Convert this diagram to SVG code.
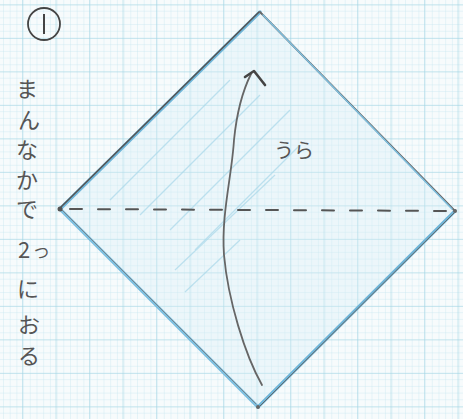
<svg xmlns="http://www.w3.org/2000/svg" width="463" height="419" viewBox="0 0 463 419">
<defs>
<pattern id="fine" width="6.7" height="6.7" patternUnits="userSpaceOnUse" x="3" y="4">
<path d="M0 0 H6.7 M0 0 V6.7" stroke="#c6e6f0" stroke-width="0.8" fill="none"/>
</pattern>
<pattern id="major" width="33.5" height="33.5" patternUnits="userSpaceOnUse" x="22" y="4.5">
<path d="M0 0 H33.5 M0 0 V33.5" stroke="#a3d5e4" stroke-width="1.1" fill="none"/>
</pattern>
<style>
.txt{font-family:"Noto Sans CJK JP","Noto Sans",sans-serif;fill:#555;font-weight:400}
.edge{fill:none;stroke-linecap:round}
</style>
</defs>
<rect width="463" height="419" fill="#f7fbfc"/>
<rect width="463" height="419" fill="url(#fine)"/>
<rect width="463" height="419" fill="url(#major)"/>

<g id="paper">
<polygon points="260,12 455,211 258,407 60,209" fill="#d6eef6" fill-opacity="0.35"/>
<g stroke="#a9d8ea" stroke-width="1.2" opacity="0.7">
<line x1="110" y1="200" x2="230" y2="80"/>
<line x1="140" y1="215" x2="260" y2="95"/>
<line x1="170" y1="230" x2="290" y2="110"/>
<line x1="175" y1="270" x2="275" y2="175"/>
<line x1="195" y1="250" x2="300" y2="145"/>
<line x1="185" y1="292" x2="240" y2="240"/>
</g>
<line class="edge" x1="60" y1="209" x2="260" y2="12" stroke="#6fb5d8" stroke-width="3.5"/>
<line class="edge" x1="61" y1="207" x2="259" y2="12" stroke="#555" stroke-width="1.6"/>
<line class="edge" x1="260" y1="12" x2="455" y2="211" stroke="#666" stroke-width="1.8"/>
<line class="edge" x1="263" y1="15" x2="452" y2="209" stroke="#7fc0e0" stroke-width="1.5"/>
<line class="edge" x1="455" y1="211" x2="258" y2="407" stroke="#6fb5d8" stroke-width="3.2"/>
<line class="edge" x1="454" y1="213" x2="260" y2="406" stroke="#666" stroke-width="1"/>
<line class="edge" x1="60" y1="209" x2="258" y2="407" stroke="#7cbfe0" stroke-width="3.2"/>
<line class="edge" x1="62" y1="210" x2="256" y2="404" stroke="#777" stroke-width="0.8"/>
<circle cx="60" cy="209" r="2.5" fill="#555"/>
<circle cx="455" cy="211" r="2" fill="#666"/>
<circle cx="258" cy="407" r="2" fill="#666"/>
</g>

<g id="connectors">
<line x1="70" y1="209" x2="450" y2="211" stroke="#555" stroke-width="2" stroke-dasharray="12,16" stroke-linecap="round"/>
<path d="M262,385 C245,355 228,300 224,255 C221,215 232,175 234,140 C237,110 243,90 251,74" fill="none" stroke="#666" stroke-width="1.8" stroke-linecap="round"/>
<path d="M245,77 L254,71 L265,85" fill="none" stroke="#444" stroke-width="2.6" stroke-linecap="round" stroke-linejoin="round"/>
</g>

<g id="step-number">
<circle cx="44" cy="24" r="16" fill="none" stroke="#444" stroke-width="1.8"/>
<line x1="44" y1="14" x2="44" y2="34" stroke="#444" stroke-width="2"/>
</g>

<g id="label-ura">
<text class="txt" x="274" y="158" font-size="20">うら</text>
</g>

<g id="instruction" class="txt" font-size="22">
<text x="16" y="97">ま</text>
<text x="18" y="128">ん</text>
<text x="16" y="158">な</text>
<text x="16" y="188">か</text>
<text x="16" y="217">で</text>
<text x="18" y="258">2</text>
<text x="34" y="258" font-size="15">つ</text>
<text x="17" y="297">に</text>
<text x="18" y="333">お</text>
<text x="18" y="364">る</text>
</g>
</svg>
